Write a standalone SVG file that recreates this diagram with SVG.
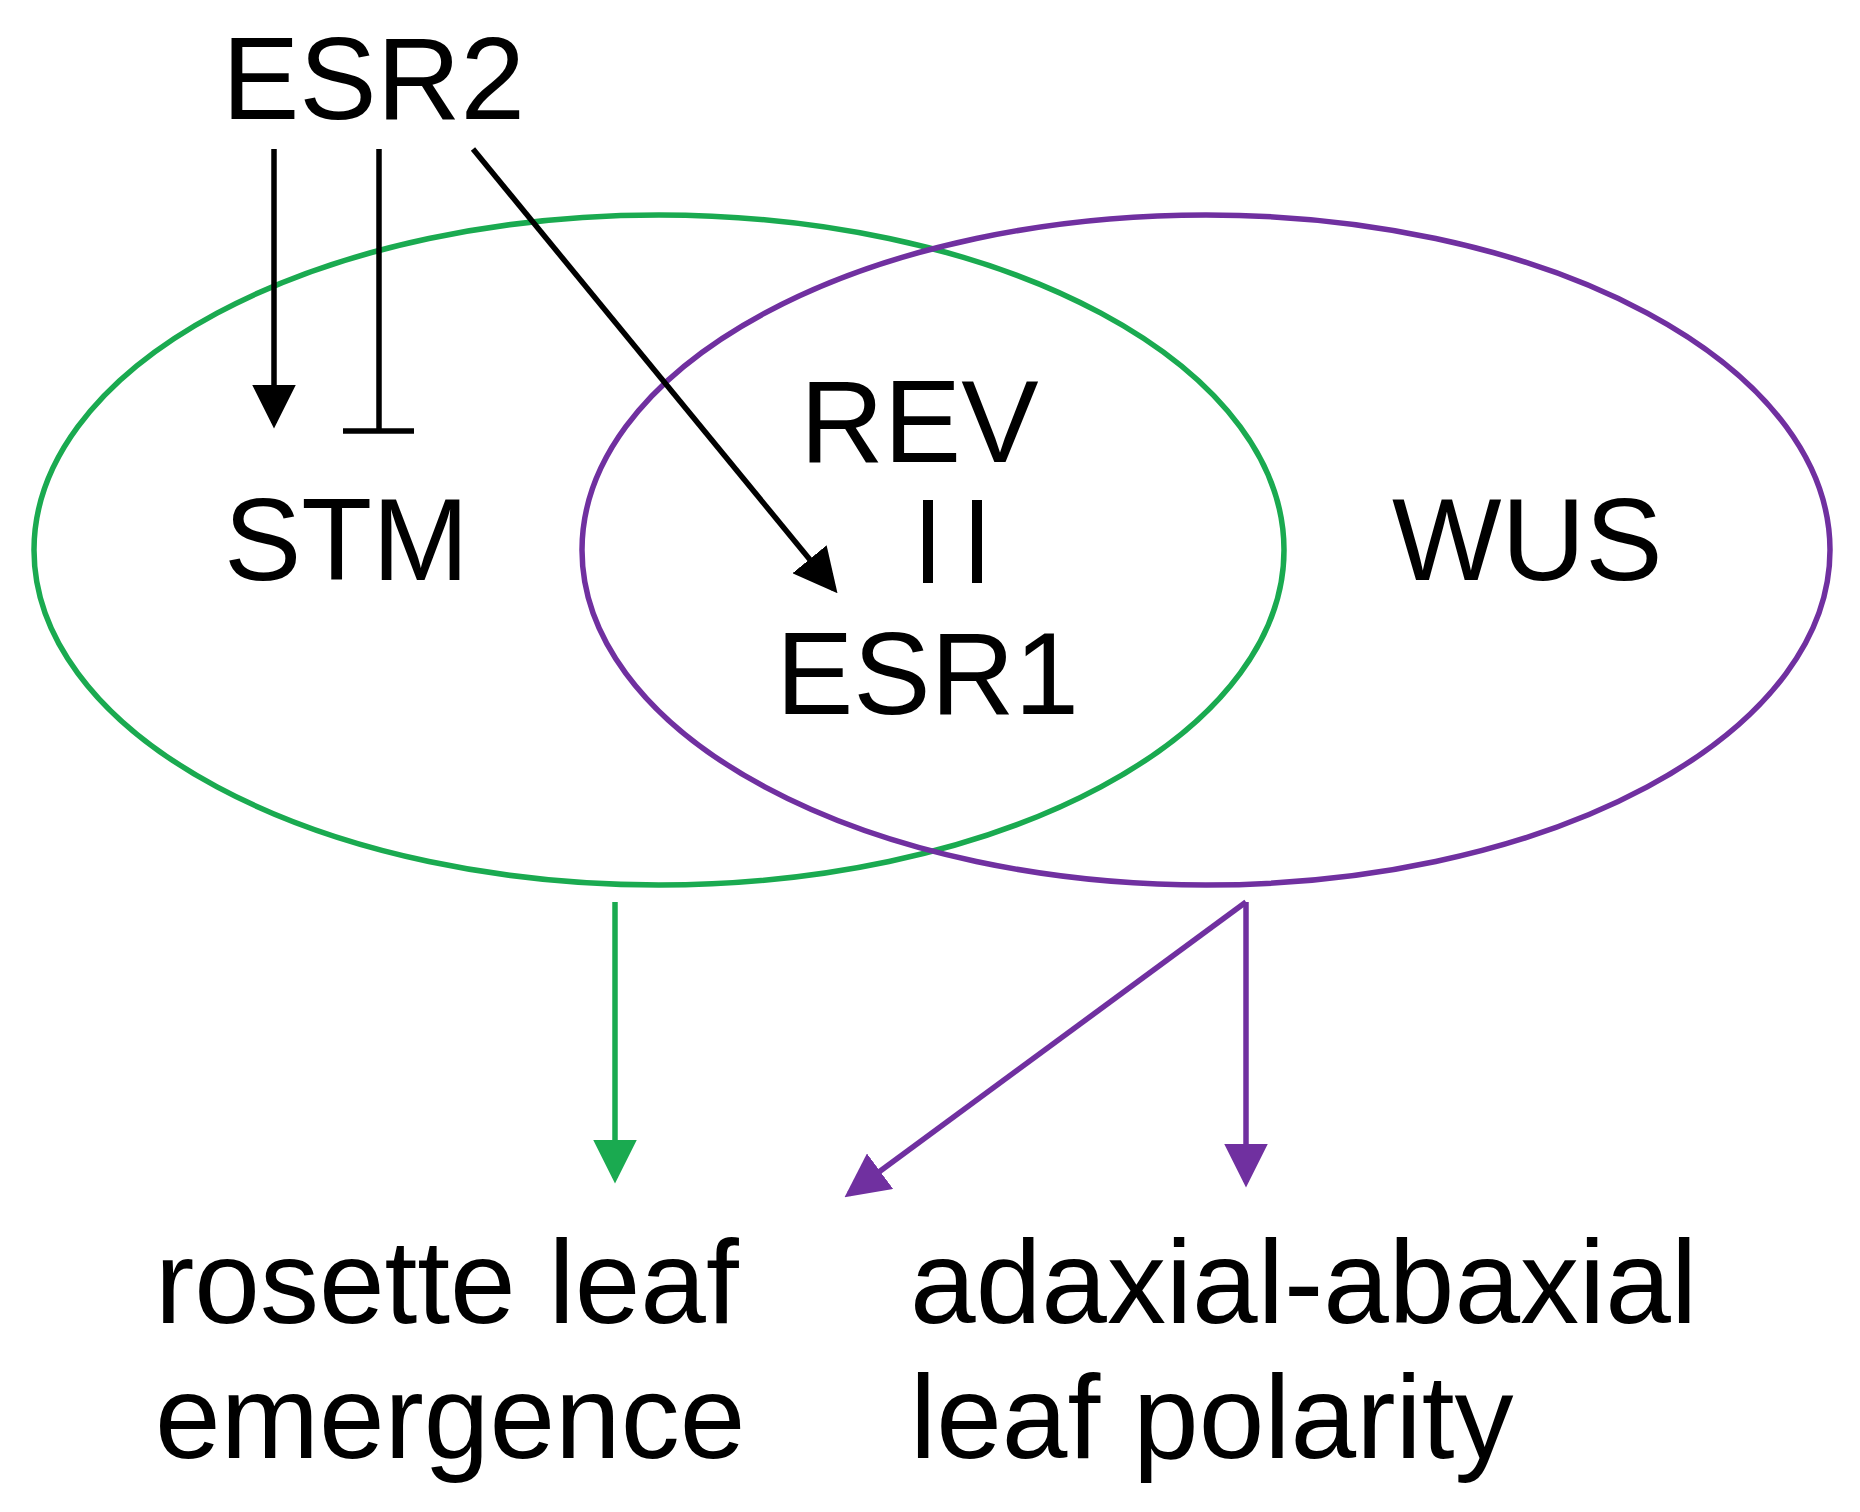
<svg xmlns="http://www.w3.org/2000/svg" width="1860" height="1512" viewBox="0 0 1860 1512">
<style>
text{font-family:"Liberation Sans",Arial,sans-serif;font-size:116px;fill:#000}
.b{font-size:118px}
.k{stroke:#000;stroke-width:5.5;fill:none}
.g{stroke:#1aaa50;stroke-width:5.5;fill:none}
.p{stroke:#7030a0;stroke-width:5.5;fill:none}
.bar{stroke:#000;stroke-width:10}
</style>
<defs>
<marker id="ak" markerWidth="8" markerHeight="8" refX="7" refY="4" orient="auto" markerUnits="strokeWidth"><path d="M0,0 L8,4 L0,8 z" fill="#000"/></marker>
<marker id="ag" markerWidth="8" markerHeight="8" refX="7" refY="4" orient="auto" markerUnits="strokeWidth"><path d="M0,0 L8,4 L0,8 z" fill="#1aaa50"/></marker>
<marker id="ap" markerWidth="8" markerHeight="8" refX="7" refY="4" orient="auto" markerUnits="strokeWidth"><path d="M0,0 L8,4 L0,8 z" fill="#7030a0"/></marker>
</defs>
<g id="green"><ellipse class="g" cx="659" cy="550" rx="625" ry="335"/></g>
<g id="purple"><ellipse class="p" cx="1206" cy="550" rx="624" ry="335"/></g>
<g id="ESR2"><text x="222" y="119">ESR2</text></g>
<g id="STM"><text x="224" y="580">STM</text></g>
<g id="REV"><text x="800" y="462">REV</text></g>
<g id="ESR1"><text x="776" y="714">ESR1</text></g>
<g id="WUS"><text x="1392" y="580">WUS</text></g>
<g id="rosette"><text class="b" x="155" y="1323">rosette leaf</text><text class="b" x="155" y="1458">emergence</text></g>
<g id="polarity"><text class="b" x="910" y="1323">adaxial-abaxial</text><text class="b" x="910" y="1458">leaf polarity</text></g>
<g id="connectors">
<line class="k" x1="274" y1="149" x2="274" y2="423" marker-end="url(#ak)"/>
<line class="k" x1="379" y1="149" x2="379" y2="431"/>
<line class="k" x1="343" y1="431" x2="414" y2="431"/>
<line class="k" x1="473" y1="149" x2="834" y2="589" marker-end="url(#ak)"/>
<line class="bar" x1="928" y1="500" x2="928" y2="583"/>
<line class="bar" x1="977" y1="500" x2="977" y2="583"/>
<line class="g" x1="615" y1="902" x2="615" y2="1178" marker-end="url(#ag)"/>
<line class="p" x1="1246" y1="902" x2="1246" y2="1182" marker-end="url(#ap)"/>
<line class="p" x1="1246" y1="902" x2="849" y2="1194" marker-end="url(#ap)"/>
</g>
</svg>
